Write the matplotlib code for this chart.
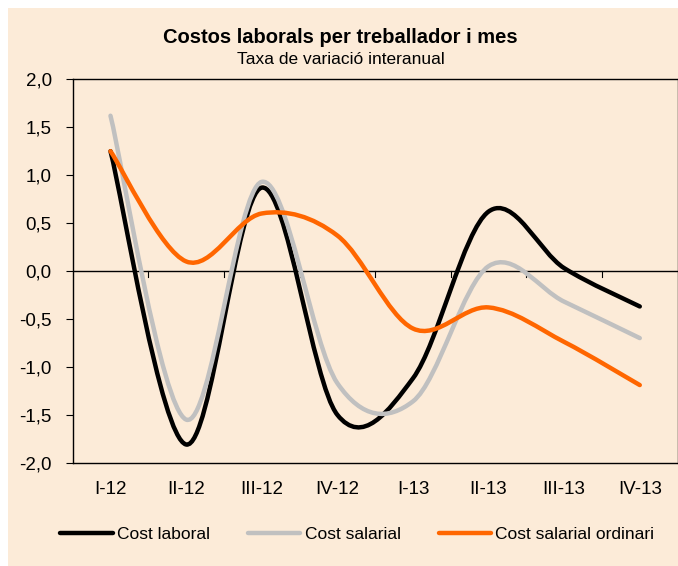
import numpy as np
import matplotlib.pyplot as plt
from matplotlib.path import Path
from matplotlib.patches import PathPatch, Rectangle
from matplotlib.lines import Line2D

# quarters and year-on-year change (%)
quarters = ['I-12', 'II-12', 'III-12', 'IV-12', 'I-13', 'II-13', 'III-13', 'IV-13']
cost_laboral = [1.25, -1.81, 0.87, -1.50, -1.12, 0.62, 0.03, -0.37]
cost_salarial = [1.62, -1.55, 0.93, -1.17, -1.36, 0.05, -0.32, -0.70]
cost_salarial_ordinari = [1.25, 0.10, 0.60, 0.37, -0.60, -0.38, -0.74, -1.19]

series_names = ['Cost laboral', 'Cost salarial', 'Cost salarial ordinari']
series_colors = ['#000000', '#C0C0C0', '#FF6600']
yticks = [-2.0, -1.5, -1.0, -0.5, 0.0, 0.5, 1.0, 1.5, 2.0]

bg = '#FCEBD8'
plt.rcParams['font.family'] = ['Liberation Sans', 'DejaVu Sans']


def smooth_path(ys):
    # excel style smoothed line: cubic bezier, control points from neighbours
    xs = np.arange(len(ys), dtype=float)
    pts = np.column_stack([xs, np.asarray(ys, dtype=float)])
    verts = [pts[0]]
    codes = [Path.MOVETO]
    n = len(pts)
    for i in range(n - 1):
        p0 = pts[i - 1] if i > 0 else pts[i]
        p1 = pts[i]
        p2 = pts[i + 1]
        p3 = pts[i + 2] if i + 2 < n else pts[i + 1]
        verts += [p1 + (p2 - p0) / 6, p2 - (p3 - p1) / 6, p2]
        codes += [Path.CURVE4] * 3
    return Path(verts, codes)


fig = plt.figure(figsize=(6.78, 5.66), dpi=100, facecolor='white')
fig.patches.append(Rectangle((8 / 678, 0), 1, 1 - 8 / 566, transform=fig.transFigure,
                             facecolor=bg, edgecolor='none', zorder=-10))

ax = fig.add_axes([0.1072, 0.1825, 0.8922, 0.6774])
ax.set_facecolor('none')

for ys, col in zip([cost_laboral, cost_salarial, cost_salarial_ordinari], series_colors):
    ax.add_patch(PathPatch(smooth_path(ys), facecolor='none', edgecolor=col,
                           lw=3.2, capstyle='round', joinstyle='round', zorder=3))

ax.set_xlim(-0.5, len(quarters) - 0.5)
ax.set_ylim(-2.0, 2.0)

# category axis crossing at zero
ax.axhline(0, color='black', lw=1.0, zorder=2)
for b in np.arange(0.5, len(quarters) - 0.5):
    ax.plot([b, b], [0, -0.06], color='black', lw=0.8, zorder=2)

ax.set_xticks(range(len(quarters)))
ax.set_xticklabels(quarters, fontsize=13.5)
ax.tick_params(axis='x', length=0, pad=13)

ax.set_yticks(yticks)
ax.set_yticklabels([('%.1f' % v).replace('.', ',') for v in yticks], fontsize=13.5)
ax.tick_params(axis='y', length=5, width=0.8, pad=10)

for s in ax.spines.values():
    s.set_linewidth(1.0)
    s.set_color('black')

fig.text(0.5015, 0.933, 'Costos laborals per treballador i mes', ha='center', va='center',
         fontsize=14.5, fontweight='bold')
fig.text(0.503, 0.894, 'Taxa de variació interanual', ha='center', va='center', fontsize=12.5)

handles = [Line2D([], [], color=c, lw=3.2, solid_capstyle='round') for c in series_colors]
fig.legend(handles, series_names, loc='center', bbox_to_anchor=(0.527, 0.055), ncol=3,
           frameon=False, fontsize=12.5, handlelength=3.0, handletextpad=0.25,
           columnspacing=2.2)

fig.savefig('out.png', dpi=100, facecolor='white')
